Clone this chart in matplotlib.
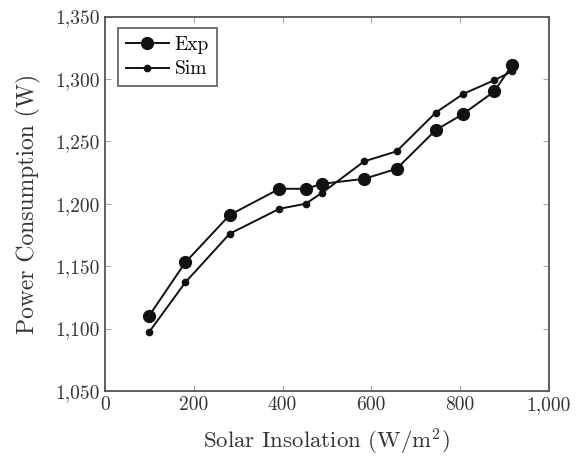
import matplotlib

matplotlib.use("Agg")
import matplotlib.pyplot as plt
from matplotlib.ticker import FuncFormatter

# measured vs simulated power draw over insolation
insolation = [99, 181, 281, 393, 452, 490, 584, 657, 745, 807, 877, 917]
exp_power = [1110, 1153, 1191, 1212, 1212, 1216, 1220, 1228, 1259, 1272, 1290, 1311]
sim_power = [1097, 1137, 1176, 1196, 1200, 1209, 1234, 1242, 1273, 1288, 1299, 1306]

plt.rcParams["font.family"] = ["cmr10", "DejaVu Serif"]
plt.rcParams["mathtext.fontset"] = "cm"
plt.rcParams["axes.formatter.use_mathtext"] = True

fig = plt.figure(figsize=(5.82, 4.61), dpi=100)
ax = fig.add_axes([0.1804, 0.152, 0.7626, 0.812])

line_color = "#111111"
ax.plot(insolation, exp_power, color=line_color, linewidth=1.4,
        marker="o", markersize=8.5, label="Exp")
ax.plot(insolation, sim_power, color=line_color, linewidth=1.4,
        marker="o", markersize=4.5, label="Sim")

ax.set_xlim(0, 1000)
ax.set_ylim(1050, 1350)
ax.set_xticks(range(0, 1001, 200))
ax.set_yticks(range(1050, 1351, 50))
ax.xaxis.set_major_formatter(FuncFormatter(lambda v, _: f"{v:,.0f}"))
ax.yaxis.set_major_formatter(FuncFormatter(lambda v, _: f"{v:,.0f}"))
ax.tick_params(direction="in", top=True, right=True, length=4,
               color="#aaaaaa", labelsize=14, labelcolor="#333333", pad=4)
for spine in ax.spines.values():
    spine.set_color("#555555")
    spine.set_linewidth(1.3)

ax.set_xlabel("Solar Insolation (W/m$^2$)", fontsize=16.5, color="#333333", labelpad=9)
ax.set_ylabel("Power Consumption (W)", fontsize=17, color="#333333", labelpad=10)

leg = ax.legend(loc="upper left", fontsize=14, frameon=True, fancybox=False,
                edgecolor="#444444", handlelength=2.2, handletextpad=0.3,
                borderpad=0.4, labelspacing=0.35, borderaxespad=0.0,
                bbox_to_anchor=(0.03, 0.97))
leg.get_frame().set_linewidth(1.3)

fig.savefig("out.png", dpi=100)
